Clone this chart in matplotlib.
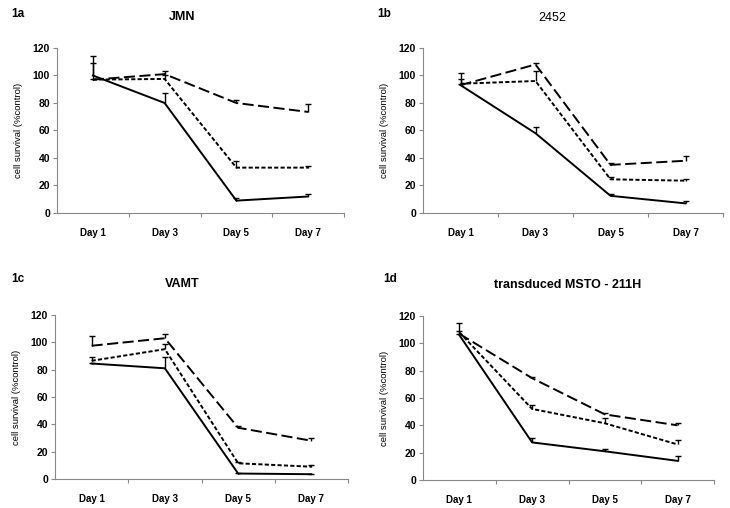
import matplotlib
matplotlib.use("Agg")
import matplotlib.pyplot as plt
from matplotlib.ticker import FixedLocator, NullFormatter

plt.rcParams['font.family'] = ['Liberation Sans', 'DejaVu Sans']
plt.rcParams['lines.scale_dashes'] = False

days = ["Day 1", "Day 3", "Day 5", "Day 7"]
yticks = [0, 20, 40, 60, 80, 100, 120]

# Panel 1a - JMN
a_solid = [100, 80, 9, 12]
a_solid_err = [14, 7.5, 2, 2]
a_short = [97, 97.5, 33, 33]
a_short_err = [12, 3, 4.5, 1.5]
a_long = [97, 101, 80, 73.5]
a_long_err = [0.5, 2.5, 2.5, 5.5]

# Panel 1b - 2452
b_solid = [93, 58, 12.5, 7]
b_solid_err = [0.5, 4.5, 1, 2]
b_short = [94, 96, 24.5, 23.5]
b_short_err = [7.5, 7.5, 2, 1]
b_long = [93, 108, 35, 38]
b_long_err = [4.5, 1, 1.5, 3.5]

# Panel 1c - VAMT
c_solid = [84.5, 81, 4, 3.5]
c_solid_err = [0.5, 8, 0.5, 0.5]
c_short = [86.5, 95, 11.5, 9]
c_short_err = [3, 3.5, 1, 1.5]
c_long = [97.5, 103, 37.5, 28]
c_long_err = [7.5, 3, 1, 2]

# Panel 1d - transduced MSTO - 211H
d_solid = [106, 27.5, 21, 14]
d_solid_err = [1, 3, 2, 3.5]
d_short = [108, 52, 41.5, 26]
d_short_err = [7, 3, 4, 3]
d_long = [107, 74.5, 48, 40]
d_long_err = [2, 1, 1, 1.5]

panels = [
    dict(label="1a", title="JMN", bold=True,
         rect=[57/730, 1-213/508, 287/730, 165/508],
         title_xy=(182, 17), label_xy=(11, 14),
         series=[(a_solid, a_solid_err), (a_short, a_short_err), (a_long, a_long_err)]),
    dict(label="1b", title="2452", bold=False,
         rect=[423/730, 1-213/508, 300/730, 165/508],
         title_xy=(552, 18), label_xy=(377, 14),
         series=[(b_solid, b_solid_err), (b_short, b_short_err), (b_long, b_long_err)]),
    dict(label="1c", title="VAMT", bold=True,
         rect=[55/730, 1-479/508, 293/730, 164/508],
         title_xy=(182, 284), label_xy=(11, 279),
         series=[(c_solid, c_solid_err), (c_short, c_short_err), (c_long, c_long_err)]),
    dict(label="1d", title="transduced MSTO - 211H", bold=True,
         rect=[423/730, 1-480/508, 291/730, 164/508],
         title_xy=(568, 285), label_xy=(383, 279),
         series=[(d_solid, d_solid_err), (d_short, d_short_err), (d_long, d_long_err)]),
]

styles = ['-', (0, (3, 1.6)), (0, (8, 3.2))]

fig = plt.figure(figsize=(7.3, 5.08), dpi=100)
W, H = 730, 508
x = list(range(len(days)))
for p in panels:
    ax = fig.add_axes(p["rect"])
    for (vals, err), ls in zip(p["series"], styles):
        ax.plot(x, vals, color='black', lw=1.4, linestyle=ls)
        tops = [v + e for v, e in zip(vals, err)]
        ax.vlines(x, vals, tops, color='black', lw=1.0)
        ax.plot(x, tops, linestyle='none', marker='_', markersize=5,
                markeredgewidth=1.0, color='black')
    ax.set_xlim(-0.5, 3.5)
    ax.set_ylim(0, 120)
    ax.set_yticks(yticks)
    ax.set_xticks(x)
    ax.set_xticklabels(days, fontsize=7, fontweight='bold')
    ax.tick_params(axis='x', which='major', length=0, pad=11)
    ax.xaxis.set_minor_locator(FixedLocator([0.5, 1.5, 2.5, 3.5]))
    ax.xaxis.set_minor_formatter(NullFormatter())
    ax.tick_params(axis='x', which='minor', length=3, color='#888888', width=0.8)
    ax.tick_params(axis='y', length=3, color='#888888', width=0.8, labelsize=7.5, pad=2)
    for t in ax.get_yticklabels():
        t.set_fontweight('bold')
    for s in ['top', 'right']:
        ax.spines[s].set_visible(False)
    for s in ['left', 'bottom']:
        ax.spines[s].set_color('#888888')
        ax.spines[s].set_linewidth(0.8)
    ax.set_ylabel("cell survival (%control)", fontsize=6.8, labelpad=7)
    tx, ty = p["title_xy"]
    fig.text(tx/W, 1-ty/H, p["title"], ha='center', va='center', fontsize=9,
             fontweight='bold' if p["bold"] else 'normal')
    lx, ly = p["label_xy"]
    fig.text(lx/W, 1-ly/H, p["label"], ha='left', va='center', fontsize=8.5,
             fontweight='bold')

fig.savefig("out.png", dpi=100)
